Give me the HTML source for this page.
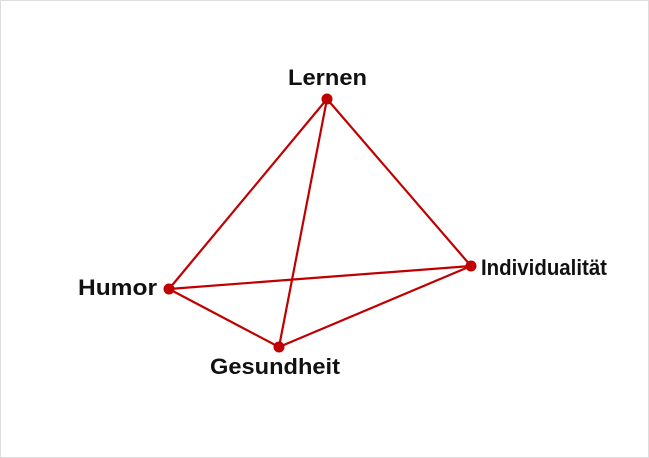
<!DOCTYPE html>
<html><head><style>
html,body{margin:0;padding:0;background:#fff;}
svg{display:block;}
text{font-family:"Liberation Sans",sans-serif;font-weight:bold;font-size:22px;fill:#111;}
</style></head><body>
<svg width="649" height="458" viewBox="0 0 649 458">
<rect x="0.5" y="0.5" width="648" height="457" fill="#fff" stroke="#ddd"/>
<g stroke="#c00000" stroke-width="2.2" fill="none">
<line x1="327" y1="99" x2="169" y2="289"/>
<line x1="327" y1="99" x2="471" y2="266"/>
<line x1="327" y1="99" x2="279" y2="347"/>
<line x1="169" y1="289" x2="471" y2="266"/>
<line x1="169" y1="289" x2="279" y2="347"/>
<line x1="279" y1="347" x2="471" y2="266"/>
</g>
<g fill="#c00000">
<circle cx="327" cy="99" r="5.5"/>
<circle cx="471" cy="266" r="5.5"/>
<circle cx="169" cy="289" r="5.5"/>
<circle cx="279" cy="347" r="5.5"/>
</g>
<text x="288" y="85" textLength="79" lengthAdjust="spacingAndGlyphs">Lernen</text>
<text x="481" y="275" textLength="126" lengthAdjust="spacingAndGlyphs">Individualität</text>
<text x="78" y="295" textLength="79" lengthAdjust="spacingAndGlyphs">Humor</text>
<text x="210" y="374" textLength="130" lengthAdjust="spacingAndGlyphs">Gesundheit</text>
</svg>
</body></html>
